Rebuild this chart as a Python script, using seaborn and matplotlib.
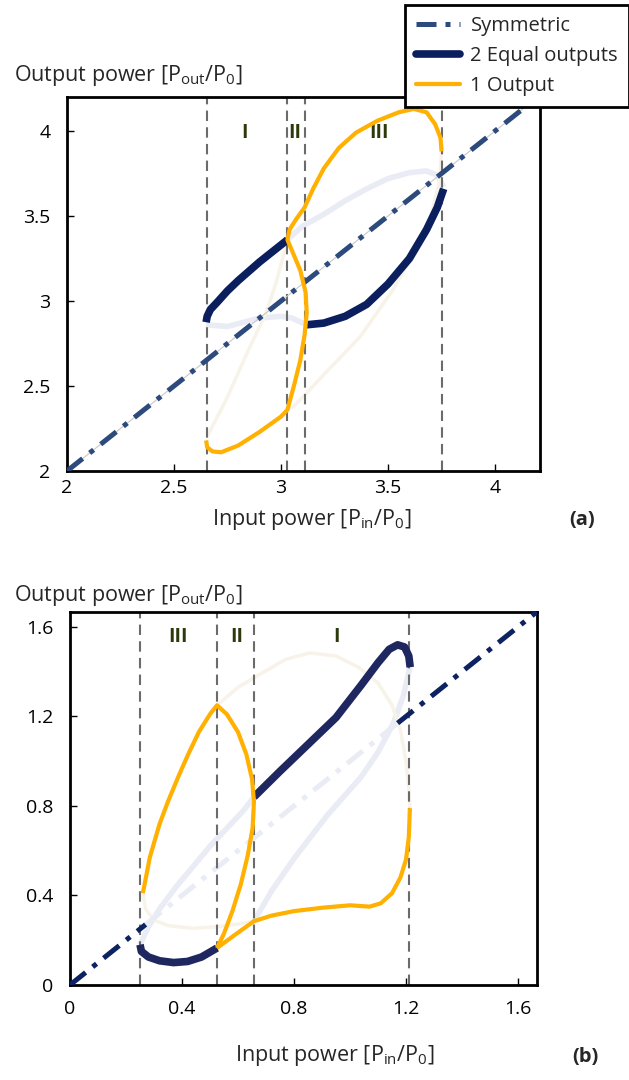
import matplotlib
matplotlib.use("Agg")
import matplotlib.pyplot as plt
import seaborn as sns
from matplotlib.lines import Line2D

sns.set_theme(style="white")
plt.rcParams['font.family'] = ['Open Sans', 'DejaVu Sans']
plt.rcParams['mathtext.fontset'] = 'custom'
plt.rcParams['mathtext.rm'] = 'Open Sans'
plt.rcParams['mathtext.it'] = 'Open Sans'

# ---------------- data: panel (a) ----------------
a_sym_x = [2.0, 4.2]
a_sym_y = [2.0, 4.2]
a_bounds = [2.654, 3.03, 3.11, 3.75]
a_region_x = [2.83, 3.065, 3.46]
a_region_txt = ["I", "II", "III"]
a_region_y = 3.99

a_eq1_x = [2.65, 2.655, 2.67, 2.70, 2.75, 2.80, 2.90, 3.00, 3.03]
a_eq1_y = [2.875, 2.91, 2.95, 2.99, 3.06, 3.12, 3.23, 3.33, 3.36]
a_eq2_x = [3.12, 3.20, 3.30, 3.40, 3.50, 3.60, 3.68, 3.73, 3.76]
a_eq2_y = [2.86, 2.87, 2.91, 2.98, 3.10, 3.25, 3.42, 3.55, 3.66]

a_feq1_x = [2.65, 2.75, 2.90, 3.00, 3.05, 3.12]
a_feq1_y = [2.86, 2.85, 2.90, 2.91, 2.90, 2.86]
a_feq2_x = [3.03, 3.10, 3.20, 3.30, 3.40, 3.50, 3.60, 3.68, 3.73, 3.76]
a_feq2_y = [3.36, 3.44, 3.51, 3.59, 3.66, 3.72, 3.755, 3.765, 3.74, 3.67]

a_one_x = [2.65, 2.655, 2.68, 2.72, 2.80, 2.90, 3.00, 3.03, 3.06, 3.09, 3.11, 3.12,
           3.115, 3.09, 3.05, 3.03, 3.04, 3.07, 3.11, 3.15, 3.20, 3.27, 3.35, 3.45,
           3.55, 3.62, 3.68, 3.72, 3.745, 3.75]
a_one_y = [2.18, 2.14, 2.115, 2.11, 2.15, 2.23, 2.32, 2.36, 2.50, 2.65, 2.80, 2.93,
           3.05, 3.18, 3.30, 3.36, 3.42, 3.48, 3.55, 3.66, 3.78, 3.90, 3.99, 4.06,
           4.11, 4.13, 4.11, 4.04, 3.96, 3.88]

a_fone1_x = [2.654, 2.75, 2.84, 2.93, 2.98, 3.03]
a_fone1_y = [2.20, 2.435, 2.69, 2.93, 3.12, 3.36]
a_fone2_x = [3.03, 3.06, 3.21, 3.37, 3.52, 3.62, 3.70, 3.74, 3.75]
a_fone2_y = [2.36, 2.38, 2.58, 2.79, 3.06, 3.28, 3.50, 3.70, 3.88]

# ---------------- data: panel (b) ----------------
b_sym_lo_x = [0.0, 0.27]
b_sym_mid_x = [0.27, 1.17]
b_sym_hi_x = [1.17, 1.667]
b_bounds = [0.25, 0.525, 0.657, 1.21]
b_region_x = [0.386, 0.596, 0.95]
b_region_txt = ["III", "II", "I"]
b_region_y = 1.556

b_eq1_x = [0.25, 0.255, 0.28, 0.32, 0.37, 0.42, 0.47, 0.525]
b_eq1_y = [0.18, 0.15, 0.125, 0.108, 0.10, 0.105, 0.125, 0.165]
b_eq2_x = [0.657, 0.75, 0.85, 0.95, 1.04, 1.10, 1.14, 1.17, 1.195, 1.21, 1.215]
b_eq2_y = [0.84, 0.955, 1.075, 1.195, 1.34, 1.44, 1.50, 1.52, 1.51, 1.47, 1.42]

b_one1_x = [0.26, 0.268, 0.285, 0.32, 0.35, 0.39, 0.42, 0.46, 0.50, 0.525, 0.56, 0.60,
            0.63, 0.65, 0.657, 0.652, 0.635, 0.61, 0.58, 0.55, 0.525]
b_one1_y = [0.41, 0.46, 0.57, 0.72, 0.82, 0.94, 1.025, 1.13, 1.21, 1.25, 1.21, 1.13,
            1.03, 0.92, 0.82, 0.70, 0.58, 0.45, 0.33, 0.23, 0.165]
b_one2_x = [0.525, 0.59, 0.657, 0.72, 0.80, 0.90, 1.00, 1.07, 1.11, 1.15, 1.18, 1.20,
            1.21, 1.214]
b_one2_y = [0.165, 0.225, 0.285, 0.31, 0.33, 0.345, 0.356, 0.35, 0.365, 0.41, 0.48,
            0.56, 0.66, 0.79]

b_fone1_x = [0.525, 0.60, 0.68, 0.77, 0.857, 0.95, 1.03, 1.10, 1.15, 1.18, 1.20, 1.21, 1.214]
b_fone1_y = [1.25, 1.33, 1.39, 1.455, 1.484, 1.47, 1.42, 1.35, 1.25, 1.14, 1.00, 0.88, 0.79]
b_fone2_x = [0.26, 0.27, 0.30, 0.35, 0.44, 0.52, 0.60, 0.657]
b_fone2_y = [0.41, 0.34, 0.29, 0.265, 0.253, 0.26, 0.272, 0.285]

b_feq1_x = [0.25, 0.28, 0.32, 0.38, 0.44, 0.50, 0.56, 0.62, 0.657]
b_feq1_y = [0.18, 0.26, 0.34, 0.44, 0.53, 0.62, 0.70, 0.78, 0.84]
b_feq2_x = [0.657, 0.72, 0.80, 0.92, 1.04, 1.10, 1.155, 1.19, 1.214]
b_feq2_y = [0.285, 0.42, 0.565, 0.76, 0.93, 1.04, 1.17, 1.29, 1.42]

a_ticks = [2, 2.5, 3, 3.5, 4]
a_ticklabels = ["2", "2.5", "3", "3.5", "4"]
b_ticks = [0, 0.4, 0.8, 1.2, 1.6]
b_ticklabels = ["0", "0.4", "0.8", "1.2", "1.6"]

# ---------------- styles ----------------
NAVY_A = "#0b1f5e"
NAVY_B = "#1e2760"
SYM_A = "#2d4a7c"
SYM_B = "#0d2262"
ORANGE = "#ffb000"
F_NAVY = "#e9ecf5"
F_ORANGE = "#f8f3e8"
REGION = "#2c3a0b"
DASHDOT = (0, (4.0, 1.8, 1.0, 1.8))

fig = plt.figure(figsize=(6.29, 10.8), dpi=100)
axA = fig.add_axes([0.1065, 0.5639, 0.752, 0.3463])
axB = fig.add_axes([0.1113, 0.0880, 0.7425, 0.3454])


def line(ax, x, y, color, lw, ls="-", z=2):
    sns.lineplot(x=x, y=y, ax=ax, color=color, linewidth=lw, sort=False,
                 estimator=None, linestyle=ls, zorder=z, solid_capstyle="butt")


# panel (a)
line(axA, a_feq1_x, a_feq1_y, F_NAVY, 4.0, z=1)
line(axA, a_feq2_x, a_feq2_y, F_NAVY, 4.0, z=1)
line(axA, a_fone1_x, a_fone1_y, F_ORANGE, 2.5, z=1)
line(axA, a_fone2_x, a_fone2_y, F_ORANGE, 2.5, z=1)
for b in a_bounds:
    axA.axvline(b, color="#6b6b6b", lw=1.5, ls=(0, (5, 3)), zorder=2)
line(axA, a_sym_x, a_sym_y, "#c8c8c8", 0.8, z=2.5)
line(axA, a_sym_x, a_sym_y, SYM_A, 3.6, ls=DASHDOT, z=3)
line(axA, a_eq1_x, a_eq1_y, NAVY_A, 5.5, z=4)
line(axA, a_eq2_x, a_eq2_y, NAVY_A, 5.5, z=4)
line(axA, a_one_x, a_one_y, ORANGE, 3.0, z=5)
for xx, t in zip(a_region_x, a_region_txt):
    axA.text(xx, a_region_y, t, color=REGION, fontsize=14, fontweight="bold",
             ha="center", va="center")
axA.set_xlim(2, 4.21)
axA.set_ylim(2, 4.2)
axA.set_xticks(a_ticks)
axA.set_xticklabels(a_ticklabels)
axA.set_yticks(a_ticks)
axA.set_yticklabels(a_ticklabels)

# panel (b)
line(axB, b_feq1_x, b_feq1_y, F_NAVY, 4.0, z=1)
line(axB, b_feq2_x, b_feq2_y, F_NAVY, 4.0, z=1)
line(axB, b_fone1_x, b_fone1_y, F_ORANGE, 2.5, z=1)
line(axB, b_fone2_x, b_fone2_y, F_ORANGE, 2.5, z=1)
for b in b_bounds:
    axB.axvline(b, color="#6b6b6b", lw=1.5, ls=(0, (5, 3)), zorder=2)
line(axB, b_sym_mid_x, b_sym_mid_x, F_NAVY, 3.6, ls=DASHDOT, z=1.5)
line(axB, b_sym_lo_x, b_sym_lo_x, SYM_B, 3.6, ls=DASHDOT, z=3)
line(axB, b_sym_hi_x, b_sym_hi_x, SYM_B, 3.6, ls=DASHDOT, z=3)
line(axB, b_eq1_x, b_eq1_y, NAVY_B, 5.5, z=4)
line(axB, b_eq2_x, b_eq2_y, NAVY_B, 5.5, z=4)
line(axB, b_one1_x, b_one1_y, ORANGE, 3.0, z=5)
line(axB, b_one2_x, b_one2_y, ORANGE, 3.0, z=5)
for xx, t in zip(b_region_x, b_region_txt):
    axB.text(xx, b_region_y, t, color=REGION, fontsize=14, fontweight="bold",
             ha="center", va="center")
axB.set_xlim(0, 1.668)
axB.set_ylim(0, 1.667)
axB.set_xticks(b_ticks)
axB.set_xticklabels(b_ticklabels)
axB.set_yticks(b_ticks)
axB.set_yticklabels(b_ticklabels)

for ax, xpad in ((axA, 6.0), (axB, 10.5)):
    for s in ax.spines.values():
        s.set_linewidth(2.0)
        s.set_color("black")
    ax.tick_params(direction="in", length=5, width=1, labelsize=14,
                   colors="black", top=False, right=False,
                   left=True, bottom=True)
    ax.tick_params(axis="y", pad=12)
    ax.tick_params(axis="x", pad=xpad)
    ax.set_xlabel("")
    ax.set_ylabel("")

ylab = "Output power [P$_\\mathregular{out}$/P$_\\mathregular{0}$]"
xlab = "Input power [P$_\\mathregular{in}$/P$_\\mathregular{0}$]"
fig.text(14 / 629, 1 - 75 / 1080, ylab, fontsize=15.5, ha="left", va="center")
fig.text(312 / 629, 1 - 520 / 1080, xlab, fontsize=15.5, ha="center", va="center")
fig.text(582 / 629, 1 - 520 / 1080, "(a)", fontsize=14.5, fontweight="bold",
         ha="center", va="center")
fig.text(14 / 629, 1 - 595 / 1080, ylab, fontsize=15.5, ha="left", va="center")
fig.text(335 / 629, 1 - 1055 / 1080, xlab, fontsize=15.5, ha="center", va="center")
fig.text(585 / 629, 1 - 1057 / 1080, "(b)", fontsize=14.5, fontweight="bold",
         ha="center", va="center")

handles = [
    Line2D([], [], color=SYM_A, lw=3.6, ls=DASHDOT),
    Line2D([], [], color=NAVY_A, lw=5.5),
    Line2D([], [], color=ORANGE, lw=3.0),
]
labels = ["Symmetric", "2 Equal outputs", "1 Output"]
leg = fig.legend(handles, labels, loc="upper left",
                 bbox_to_anchor=(405 / 629, 1 - 5 / 1080), fontsize=14.5,
                 frameon=True, fancybox=False, framealpha=1, edgecolor="black",
                 handlelength=2.2, handletextpad=0.5, labelspacing=0.5,
                 borderpad=0.55, borderaxespad=0)
leg.get_frame().set_linewidth(2.0)
leg.set_zorder(10)

fig.savefig("out.png", dpi=100)
